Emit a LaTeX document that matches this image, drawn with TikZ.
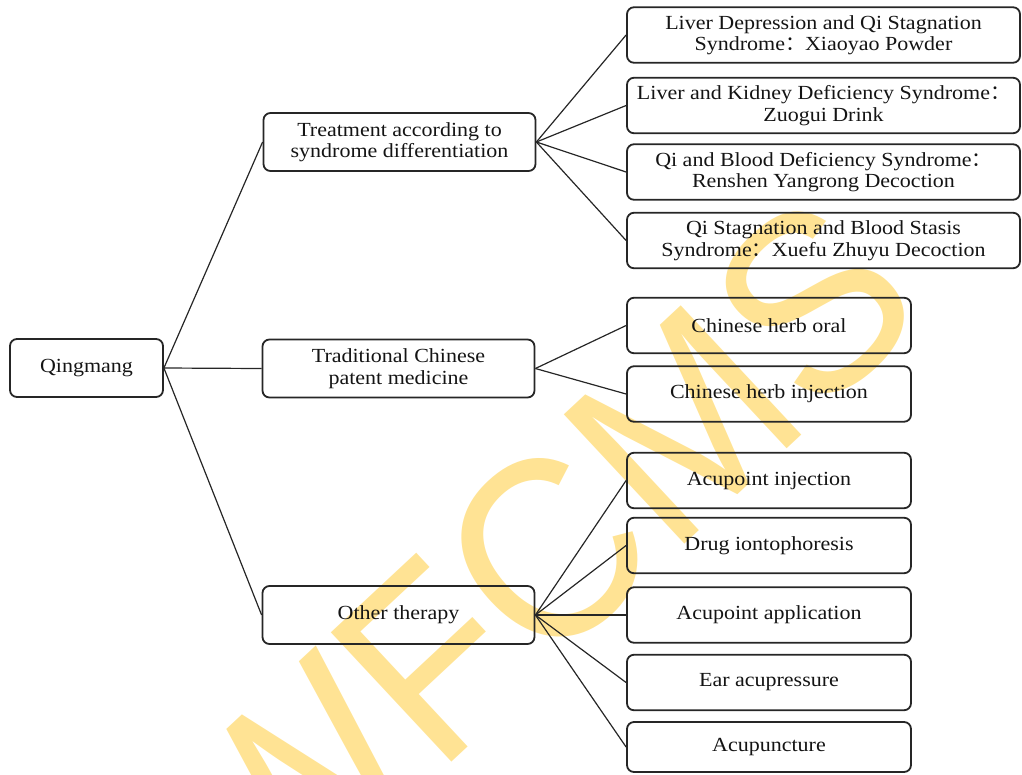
\documentclass[tikz,border=0pt]{standalone}
\usepackage{fontspec}
\newfontfamily\boxfamily{Liberation Serif}[FakeStretch=1.1]
\newfontfamily\wmfamily{Liberation Sans}[FakeStretch=0.93]
\newfontfamily\cjkfam{Noto Sans CJK SC}
\newcommand\fwcolon{{\cjkfam ：}}
\definecolor{wmyellow}{HTML}{FFE394}
\definecolor{boxline}{HTML}{262626}
\definecolor{txt}{HTML}{141414}
\begin{document}
\begin{tikzpicture}[x=1pt,y=-1pt,
  box/.style={draw=boxline, line width=1.8pt, rounded corners=7pt, align=center,
    inner sep=0pt, text=txt, font=\boxfamily\fontsize{20}{21.5}\selectfont},
  wide/.style={box, minimum width=393pt, minimum height=55.5pt},
  narrow/.style={box, minimum width=284pt, minimum height=55.5pt},
  mid/.style={box, minimum width=272pt, minimum height=58pt},
  conn/.style={draw=boxline, line width=1.2pt},
  wm/.style={text=wmyellow, inner sep=0pt, font=\wmfamily\fontsize{257}{257}\selectfont}]
\path[use as bounding box] (0,0) rectangle (1022,774);
\begin{scope}
\clip (0,0) rectangle (1022,774);
\node[wm, rotate=43, anchor=base west] (wmark) at (272,929) {WFCMS};
\end{scope}
% root
\node[box, minimum width=153pt, minimum height=58pt] (root) at (86.5,368) {Qingmang};
% level 2
\node[mid] (treat) at (399.5,142) {Treatment according to\\syndrome differentiation};
\node[mid] (tcpm) at (398.5,368.5) {Traditional Chinese\\patent medicine};
\node[mid] (other) at (398.5,615) {Other therapy};
% level 3 top
\node[wide] (s1) at (823.5,35) {Liver Depression and Qi Stagnation\\Syndrome\fwcolon Xiaoyao Powder};
\node[wide] (s2) at (823.5,105.5) {Liver and Kidney Deficiency Syndrome\fwcolon\\Zuogui Drink};
\node[wide] (s3) at (823.5,172) {Qi and Blood Deficiency Syndrome\fwcolon\\Renshen Yangrong Decoction};
\node[wide] (s4) at (823.5,240.5) {Qi Stagnation and Blood Stasis\\Syndrome\fwcolon Xuefu Zhuyu Decoction};
% level 3 middle
\node[narrow] (m1) at (769,325.5) {Chinese herb oral};
\node[narrow] (m2) at (769,394) {Chinese herb injection};
% level 3 bottom
\node[narrow] (o1) at (769,480.5) {Acupoint injection};
\node[narrow] (o2) at (769,545.5) {Drug iontophoresis};
\node[narrow] (o3) at (769,615) {Acupoint application};
\node[narrow] (o4) at (769,682.5) {Ear acupressure};
\node[narrow, minimum height=50pt] (o5) at (769,747) {Acupuncture};
% connectors
\draw[conn] (root.east) -- (treat.west);
\draw[conn] (root.east) -- (tcpm.west);
\draw[conn] (root.east) -- (other.west);
\foreach \n in {s1,s2,s3,s4} \draw[conn] (treat.east) -- (\n.west);
\foreach \n in {m1,m2} \draw[conn] (tcpm.east) -- (\n.west);
\foreach \n in {o1,o2,o3,o4,o5} \draw[conn] (other.east) -- (\n.west);
\end{tikzpicture}
\end{document}
